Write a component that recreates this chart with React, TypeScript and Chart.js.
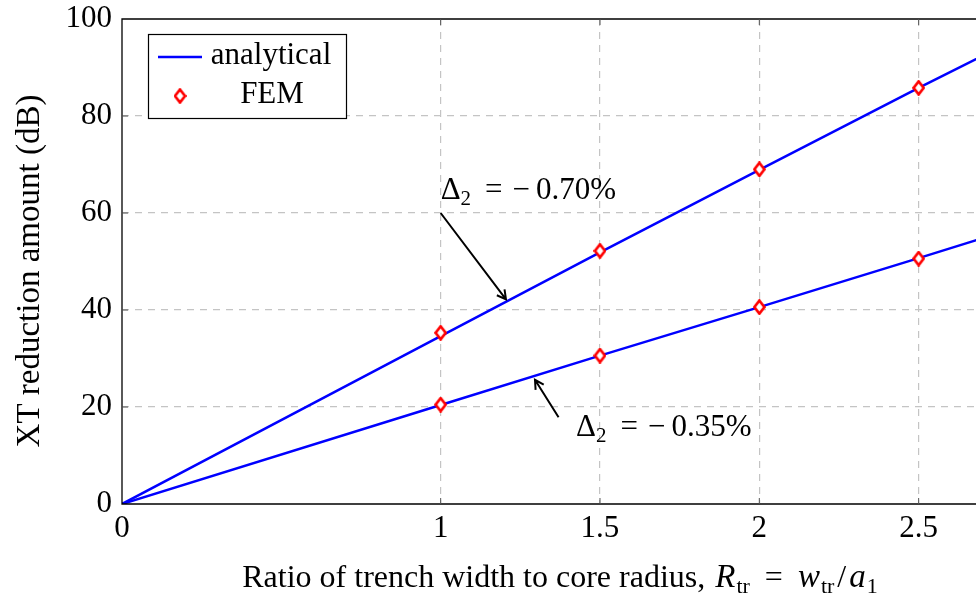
import React, { useEffect, useRef } from "react";
import { Chart, registerables } from "chart.js";

Chart.register(...registerables);

// Axis ticks
const xTicks = [0, 1, 1.5, 2, 2.5];
const yTicks = [0, 20, 40, 60, 80, 100];

// Analytical curves (XT reduction in dB vs. R_tr)
const analyticalX = [0, 1, 1.5, 2, 2.5, 2.7];
const analyticalHigh = [0, 34.6, 51.9, 68.9, 85.8, 92.4]; // Δ2 = −0.70%
const analyticalLow = [0, 20.4, 30.6, 40.6, 50.7, 54.8]; // Δ2 = −0.35%

// FEM results
const femX = [1, 1.5, 2, 2.5];
const femHigh = [35.3, 52.2, 69.0, 85.8];
const femLow = [20.5, 30.6, 40.6, 50.6];

const SERIF = '"Liberation Serif", "Times New Roman", serif';
const FS = 31;

function makeDiamond(): HTMLCanvasElement {
  const c = document.createElement("canvas");
  const w = 13;
  const h = 16;
  c.width = w;
  c.height = h;
  const g = c.getContext("2d")!;
  g.beginPath();
  g.moveTo(w / 2, 1.5);
  g.lineTo(w - 1.5, h / 2);
  g.lineTo(w / 2, h - 1.5);
  g.lineTo(1.5, h / 2);
  g.closePath();
  g.fillStyle = "#ffffff";
  g.fill();
  g.lineWidth = 2.7;
  g.strokeStyle = "#ff0000";
  g.stroke();
  return c;
}

function pts(xs: number[], ys: number[]) {
  return xs.map((x, i) => ({ x, y: ys[i] }));
}

type Piece = { t: string; font: string; dy?: number; gap?: number };

function drawPieces(ctx: CanvasRenderingContext2D, x: number, y: number, pieces: Piece[]) {
  ctx.textAlign = "left";
  ctx.textBaseline = "alphabetic";
  let cx = x;
  for (const p of pieces) {
    cx += p.gap || 0;
    ctx.font = p.font;
    ctx.fillText(p.t, cx, y + (p.dy || 0));
    cx += ctx.measureText(p.t).width;
  }
  return cx - x;
}

function measurePieces(ctx: CanvasRenderingContext2D, pieces: Piece[]) {
  let w = 0;
  for (const p of pieces) {
    ctx.font = p.font;
    w += (p.gap || 0) + ctx.measureText(p.t).width;
  }
  return w;
}

export default function App() {
  const ref = useRef<HTMLCanvasElement | null>(null);

  useEffect(() => {
    const canvas = ref.current;
    if (!canvas) return;
    const diamond = makeDiamond();

    // Frame, inward ticks, legend, annotations and axis titles
    const decor = {
      id: "decor",
      afterDraw(chart: any) {
        const ctx = chart.ctx as CanvasRenderingContext2D;
        const a = chart.chartArea;
        const xs = chart.scales.x;
        const ys = chart.scales.y;
        ctx.save();

        // frame
        ctx.strokeStyle = "#000";
        ctx.lineWidth = 1.3;
        ctx.beginPath();
        ctx.moveTo(a.right + 2, a.top);
        ctx.lineTo(a.left, a.top);
        ctx.lineTo(a.left, a.bottom);
        ctx.lineTo(a.right + 2, a.bottom);
        ctx.stroke();

        // inward tick marks
        ctx.strokeStyle = "#555";
        ctx.lineWidth = 1;
        ctx.beginPath();
        for (const v of xTicks) {
          if (v === 0) continue;
          const px = xs.getPixelForValue(v);
          ctx.moveTo(px, a.bottom);
          ctx.lineTo(px, a.bottom - 6);
          ctx.moveTo(px, a.top);
          ctx.lineTo(px, a.top + 6);
        }
        for (const v of yTicks) {
          if (v === 0 || v === 100) continue;
          const py = ys.getPixelForValue(v);
          ctx.moveTo(a.left, py);
          ctx.lineTo(a.left + 6, py);
        }
        ctx.stroke();

        // annotations
        ctx.fillStyle = "#000";
        const rm = `${FS}px ${SERIF}`;
        const sub = `21px ${SERIF}`;
        const delta = (val: string): Piece[] => [
          { t: "Δ", font: rm },
          { t: "2", font: sub, dy: 6 },
          { t: "=", font: rm, gap: 14 },
          { t: "−", font: rm, gap: 10 },
          { t: val, font: rm, gap: 6 },
        ];
        const arrow = (x1: number, y1: number, x2: number, y2: number) => {
          const p1x = xs.getPixelForValue(x1);
          const p1y = ys.getPixelForValue(y1);
          const p2x = xs.getPixelForValue(x2);
          const p2y = ys.getPixelForValue(y2);
          const ang = Math.atan2(p2y - p1y, p2x - p1x);
          ctx.strokeStyle = "#000";
          ctx.lineWidth = 2;
          ctx.beginPath();
          ctx.moveTo(p1x, p1y);
          ctx.lineTo(p2x, p2y);
          const hl = 10;
          ctx.moveTo(p2x - hl * Math.cos(ang - 0.5), p2y - hl * Math.sin(ang - 0.5));
          ctx.lineTo(p2x, p2y);
          ctx.lineTo(p2x - hl * Math.cos(ang + 0.5), p2y - hl * Math.sin(ang + 0.5));
          ctx.stroke();
        };
        drawPieces(ctx, xs.getPixelForValue(1.0), ys.getPixelForValue(62.8), delta("0.70%"));
        arrow(1.0, 60, 1.205, 42.2);
        drawPieces(ctx, xs.getPixelForValue(1.425), ys.getPixelForValue(14.0), delta("0.35%"));
        arrow(1.37, 17.9, 1.296, 25.6);

        // legend
        const lx = 148, ly = 34, lw = 198, lh = 84;
        ctx.fillStyle = "#fff";
        ctx.fillRect(lx, ly, lw, lh);
        ctx.strokeStyle = "#000";
        ctx.lineWidth = 1.2;
        ctx.strokeRect(lx + 0.5, ly + 0.5, lw, lh);
        ctx.strokeStyle = "#0000ff";
        ctx.lineWidth = 2.5;
        ctx.beginPath();
        ctx.moveTo(158, 57);
        ctx.lineTo(202, 57);
        ctx.stroke();
        ctx.drawImage(diamond, 180 - diamond.width / 2, 96 - diamond.height / 2);
        ctx.fillStyle = "#000";
        ctx.font = `${FS}px ${SERIF}`;
        ctx.textAlign = "center";
        ctx.textBaseline = "middle";
        ctx.fillText("analytical", 271, 56);
        ctx.fillText("FEM", 272, 95);

        // y title
        ctx.save();
        ctx.translate(30, 271);
        ctx.rotate(-Math.PI / 2);
        ctx.textAlign = "center";
        ctx.textBaseline = "middle";
        ctx.font = `33px ${SERIF}`;
        ctx.fillText("XT reduction amount (dB)", 0, 0);
        ctx.restore();

        // x title with italic symbols and subscripts
        const tf = `32px ${SERIF}`;
        const ti = `italic 33px ${SERIF}`;
        const ts = `22px ${SERIF}`;
        const title: Piece[] = [
          { t: "Ratio of trench width to core radius, ", font: tf },
          { t: "R", font: ti, gap: 2 },
          { t: "tr", font: ts, dy: 6, gap: 1 },
          { t: "=", font: tf, gap: 15 },
          { t: "w", font: ti, gap: 15 },
          { t: "tr", font: ts, dy: 6, gap: 1 },
          { t: "/", font: tf, gap: 3 },
          { t: "a", font: ti, gap: 3 },
          { t: "1", font: ts, dy: 6, gap: 1 },
        ];
        const tw = measurePieces(ctx, title);
        ctx.fillStyle = "#000";
        drawPieces(ctx, 560 - tw / 2, 587, title);
        ctx.restore();
      },
    };

    const chart = new Chart(canvas, {
      type: "scatter",
      data: {
        datasets: [
          {
            label: "FEM high",
            data: pts(femX, femHigh),
            pointStyle: diamond as any,
            pointRadius: 6,
            showLine: false,
            order: 0,
          },
          {
            label: "FEM low",
            data: pts(femX, femLow),
            pointStyle: diamond as any,
            pointRadius: 6,
            showLine: false,
            order: 0,
          },
          {
            label: "analytical high",
            data: pts(analyticalX, analyticalHigh),
            showLine: true,
            borderColor: "#0000ff",
            borderWidth: 2.5,
            pointRadius: 0,
            order: 1,
          },
          {
            label: "analytical low",
            data: pts(analyticalX, analyticalLow),
            showLine: true,
            borderColor: "#0000ff",
            borderWidth: 2.5,
            pointRadius: 0,
            order: 1,
          },
        ],
      },
      options: {
        animation: false,
        responsive: false,
        maintainAspectRatio: false,
        layout: { autoPadding: false, padding: { top: 19, right: 0, left: 0, bottom: 0 } },
        plugins: {
          legend: { display: false },
          tooltip: { enabled: false },
        },
        scales: {
          x: {
            type: "linear",
            min: 0,
            max: 2.68,
            afterBuildTicks: (scale: any) => {
              scale.ticks = xTicks.map((v) => ({ value: v }));
            },
            afterFit: (scale: any) => {
              scale.height = 93;
              scale.paddingRight = 0;
              scale.paddingLeft = 0;
              scale.paddingTop = 0;
              scale.paddingBottom = 0;
            },
            border: { display: false, dash: [7, 6] },
            grid: {
              color: (c: any) => (c.tick && c.tick.value === 0 ? "rgba(0,0,0,0)" : "#c4c4c4"),
              lineWidth: 1.2,
              drawTicks: false,
            },
            ticks: {
              autoSkip: false,
              maxRotation: 0,
              padding: 6,
              color: "#000",
              font: { family: SERIF, size: FS },
              callback: (v: any) => String(v),
            },
          },
          y: {
            type: "linear",
            min: 0,
            max: 100,
            afterBuildTicks: (scale: any) => {
              scale.ticks = yTicks.map((v) => ({ value: v }));
            },
            afterFit: (scale: any) => {
              scale.width = 122;
              scale.paddingTop = 0;
              scale.paddingBottom = 0;
              scale.paddingLeft = 0;
              scale.paddingRight = 0;
            },
            border: { display: false, dash: [7, 6] },
            grid: {
              color: (c: any) =>
                c.tick && (c.tick.value === 0 || c.tick.value === 100) ? "rgba(0,0,0,0)" : "#c4c4c4",
              lineWidth: 1.2,
              drawTicks: false,
            },
            ticks: {
              padding: 10,
              color: "#000",
              font: { family: SERIF, size: FS },
              callback: (v: any) => String(v),
            },
          },
        },
      } as any,
      plugins: [decor],
    });

    return () => chart.destroy();
  }, []);

  return (
    <div style={{ position: "fixed", left: 0, top: 0, width: 976, height: 597, background: "#fff" }}>
      <canvas ref={ref} width={976} height={597} style={{ display: "block", width: 976, height: 597 }} />
    </div>
  );
}
